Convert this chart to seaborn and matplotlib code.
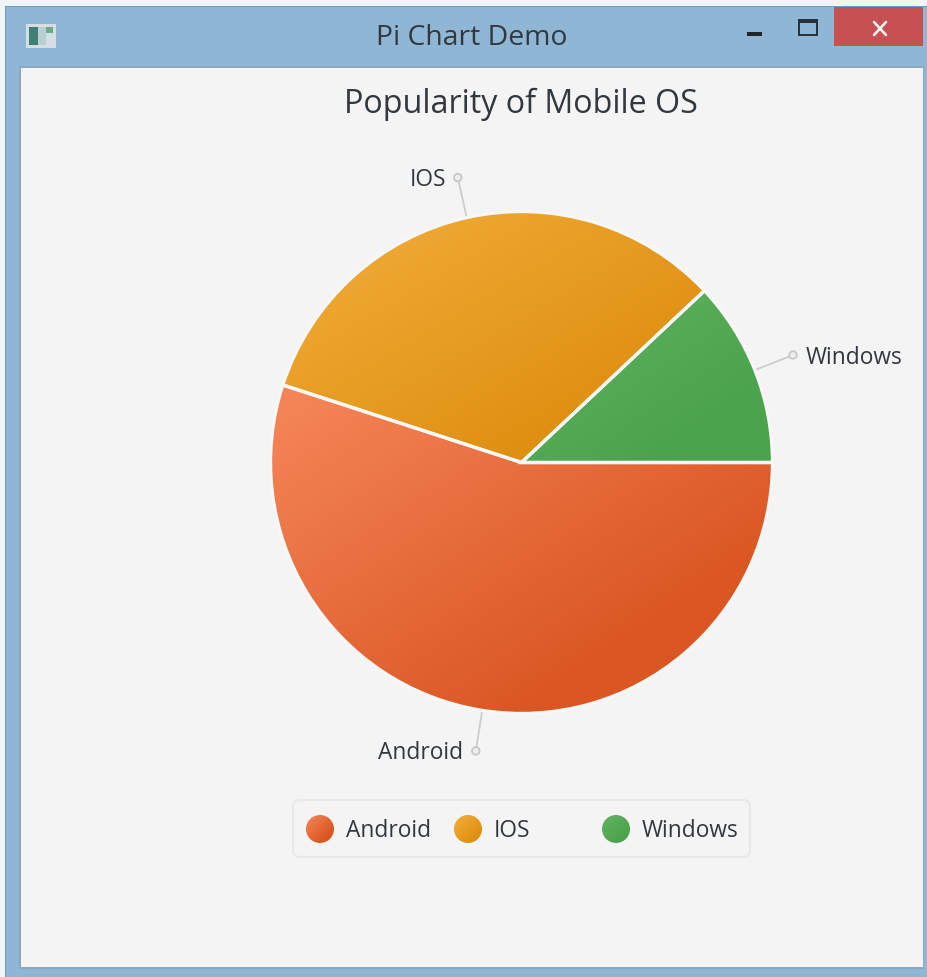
import numpy as np
import matplotlib
matplotlib.use("Agg")
import matplotlib.pyplot as plt
from matplotlib.colors import LinearSegmentedColormap
from matplotlib.patches import Circle, FancyBboxPatch, Rectangle
import seaborn as sns

# Chart data
categories = ["Android", "IOS", "Windows"]
shares = [55, 33, 12]
chart_title = "Popularity of Mobile OS"
window_title = "Pi Chart Demo"
light_colors = ["#F6875A", "#F3AF3C", "#62B562"]
dark_colors = ["#DA5622", "#DF9012", "#4BA34B"]

W, H = 927, 977
sns.set_theme(style="white")
plt.rcParams["font.family"] = ["Open Sans", "DejaVu Sans"]
TEXT = "#33383F"
PANEL = "#F4F4F4"

fig = plt.figure(figsize=(W / 100, H / 100), dpi=100, facecolor="#F2F5F8")
ax = fig.add_axes([0, 0, 1, 1])


def box(x0, y0, x1, y1, color, z=1, **kw):
    ax.add_patch(Rectangle((x0, y0), x1 - x0, y1 - y0, fc=color, ec="none", zorder=z, **kw))


def gradient_fill(patch, light, dark, z):
    """Paint a diagonal light-to-dark gradient clipped to a patch."""
    ext = patch.get_path().get_extents(patch.get_transform() - ax.transData)
    u, v = np.meshgrid(np.linspace(0, 1, 300), np.linspace(0, 1, 300))
    cmap = LinearSegmentedColormap.from_list("fill", [(0, light), (0.76, dark), (1, dark)])
    img = ax.imshow((u + v) / 2, cmap=cmap, vmin=0, vmax=1, origin="upper",
                    extent=(ext.x0, ext.x1, ext.y1, ext.y0), zorder=z, aspect="auto")
    img.set_clip_path(patch)


# Window frame
box(5, 6, W, H, "#6F9CBC", 1)
box(6, 7, W, H, "#8FB6D4", 1.1)
box(19, 66, 924, 969, "#8AA9BF", 1.2)
box(21, 68, 923, 967, PANEL, 1.3)

# Title bar
ax.text(471.5, 38, window_title, ha="center", va="center", fontsize=20.4, color=TEXT, zorder=5)
box(834, 7, 923, 46, "#C75050", 2)
ax.plot([874, 886], [22, 35], color="white", lw=1.8, zorder=3)
ax.plot([886, 874], [22, 35], color="white", lw=1.8, zorder=3)
box(747, 32, 762, 36, "#22262B", 3)
ax.add_patch(Rectangle((799, 20), 18, 15, fc="none", ec="#22303C", lw=1.4, zorder=3))
box(799, 20, 817, 23, "#22303C", 3)
box(26, 24, 56, 48, "#D5DEE3", 2)
box(29, 27, 38, 45, "#3F7F78", 3)
box(38, 27, 46, 45, "#B9CFD2", 3)
box(46, 27, 53, 33, "#6EA88A", 3)

# Pie: the y axis runs downward, so increasing angles sweep clockwise on screen
cx, cy, radius = 521.5, 462.5, 251
palette = sns.color_palette(dark_colors)
wedges, _ = ax.pie(shares, colors=palette, center=(cx, cy), radius=radius,
                   startangle=0, counterclock=True, frame=False,
                   wedgeprops=dict(edgecolor="#F7F7F7", linewidth=2.4))
ax.set_xlim(0, W)
ax.set_ylim(H, 0)
ax.set_aspect("auto")
ax.axis("off")

for wedge, light, dark in zip(wedges, light_colors, dark_colors):
    gradient_fill(wedge, light, dark, 2)
    wedge.set_facecolor("none")
    wedge.set_zorder(3)

# Leader lines and slice labels
label_layout = {"Android": ("right", -13), "IOS": ("right", -12), "Windows": ("left", 13)}
for wedge, name in zip(wedges, categories):
    mid = np.deg2rad((wedge.theta1 + wedge.theta2) / 2)
    c, s = np.cos(mid), np.sin(mid)
    tip = (cx + 292 * c, cy + 292 * s)
    ax.plot([cx + 253 * c, tip[0]], [cy + 253 * s, tip[1]], color="#CCCCCC", lw=1.3, zorder=2)
    ax.add_patch(Circle(tip, 3.8, fc="#EDEDED", ec="#C8C8C8", lw=1.3, zorder=3))
    ha, dx = label_layout[name]
    ax.text(tip[0] + dx, tip[1] + 2.5, name, ha=ha, va="center", fontsize=16.4, color=TEXT, zorder=5)

# Chart title
ax.text(521, 104, chart_title, ha="center", va="center", fontsize=23.2, color=TEXT, zorder=5)

# Legend
ax.add_patch(FancyBboxPatch((300, 807), 443, 43, boxstyle="round,pad=7",
                            fc=PANEL, ec="#E8E8E8", lw=1.5, zorder=2))
swatch_x = [320, 468, 616]
for sx, name, light, dark in zip(swatch_x, categories, light_colors, dark_colors):
    swatch = Circle((sx, 829), 14, fc="none", ec="none", zorder=3)
    ax.add_patch(swatch)
    gradient_fill(swatch, light, dark, 3)
    ax.text(sx + 26, 831, name, ha="left", va="center", fontsize=16.4, color=TEXT, zorder=5)

ax.set_xlim(0, W)
ax.set_ylim(H, 0)
fig.savefig("out.png", dpi=100, facecolor=fig.get_facecolor())
